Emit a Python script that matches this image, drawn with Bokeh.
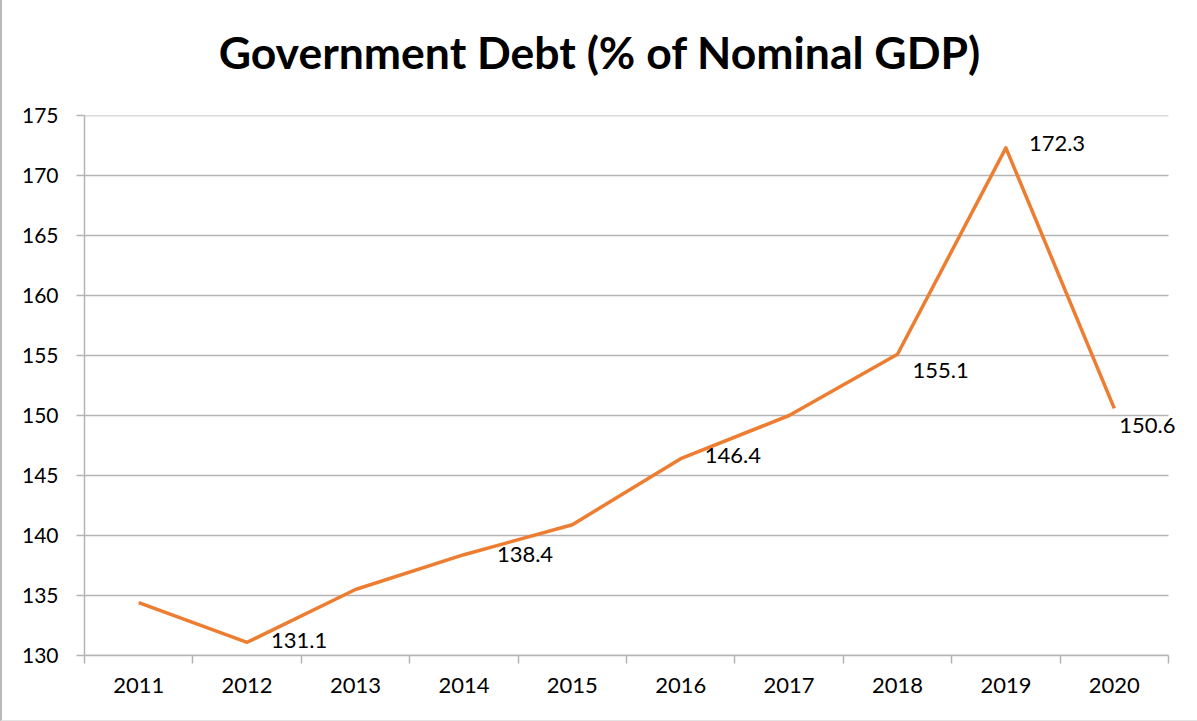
from bokeh.plotting import figure
from bokeh.models import ColumnDataSource, LabelSet, FixedTicker, Range1d, Div
from bokeh.layouts import column
from bokeh.core.properties import value
from bokeh.embed import file_html
from bokeh.resources import INLINE

# ---- data ----
years = ["2011", "2012", "2013", "2014", "2015", "2016", "2017", "2018", "2019", "2020"]
debt = [134.4, 131.1, 135.5, 138.4, 140.9, 146.4, 150.0, 155.1, 172.3, 150.6]
labeled_years = ["2012", "2014", "2016", "2018", "2019", "2020"]
y_ticks = [130, 135, 140, 145, 150, 155, 160, 165, 170, 175]
title_text = "Government Debt (% of Nominal GDP)"

# label placement offsets (pixels) for each labeled point
label_dx = [24, 33, 24, 15, 23, 5]
label_dy = [2, 0, 3, -16, 4, -17]

FONT = "Lato"
ORANGE = "#ED7D31"
GRID = "#B4B4B4"

n = len(years)
xpos = [i + 0.5 for i in range(n)]
src = ColumnDataSource(dict(x=xpos, y=debt))

lab_idx = [years.index(y) for y in labeled_years]
lab_src = ColumnDataSource(dict(
    x=[xpos[i] for i in lab_idx],
    y=[debt[i] for i in lab_idx],
    t=["%.1f" % debt[i] for i in lab_idx],
    dx=label_dx,
    dy=label_dy,
))

TITLE_H = 95
PLOT_W = 1195
LEFT = 82
AXIS_W = 1084  # pixel width of the category axis
p = figure(width=PLOT_W, height=720 - TITLE_H, output_backend="svg", toolbar_location=None,
           x_range=Range1d(0, n * (PLOT_W - LEFT) / AXIS_W),
           y_range=Range1d(y_ticks[0], y_ticks[-1]),
           min_border_left=LEFT, min_border_right=0, min_border_top=20, min_border_bottom=65)
p.outline_line_color = None
p.background_fill_color = "white"
p.border_fill_color = "white"

# horizontal gridlines limited to the category axis span
p.segment(x0=[0] * len(y_ticks), x1=[n] * len(y_ticks), y0=y_ticks, y1=y_ticks,
          line_color=GRID, line_width=1.5)

p.line("x", "y", source=src, line_color=ORANGE, line_width=3.5, line_join="round")

labels = LabelSet(x="x", y="y", text="t", source=lab_src, x_offset="dx", y_offset="dy",
                  text_font=value(FONT), text_font_size="22px", text_color="black",
                  text_align="left", text_baseline="middle")
p.add_layout(labels)

# x axis: labels at category centres, ticks at category boundaries
p.xaxis.bounds = (0, n)
p.xaxis.ticker = FixedTicker(ticks=xpos, minor_ticks=list(range(n + 1)))
p.xaxis.major_label_overrides = {x: y for x, y in zip(xpos, years)}
p.xaxis.major_tick_line_color = None
p.xaxis.major_tick_out = 0
p.xaxis.major_tick_in = 0
p.xaxis.minor_tick_out = 8
p.xaxis.minor_tick_in = 0
p.xaxis.minor_tick_line_color = GRID
p.xaxis.minor_tick_line_width = 1.5
p.xaxis.axis_line_color = GRID
p.xaxis.axis_line_width = 1.5
p.xaxis.major_label_standoff = 14
p.xaxis.major_label_text_font = FONT
p.xaxis.major_label_text_font_size = "22px"
p.xaxis.major_label_text_color = "black"

p.yaxis.ticker = FixedTicker(ticks=y_ticks)
p.yaxis.minor_tick_line_color = None
p.yaxis.major_tick_out = 8
p.yaxis.major_tick_in = 0
p.yaxis.major_tick_line_color = GRID
p.yaxis.major_tick_line_width = 1.5
p.yaxis.axis_line_color = GRID
p.yaxis.axis_line_width = 1.5
p.yaxis.major_label_standoff = 18
p.yaxis.major_label_text_font = FONT
p.yaxis.major_label_text_font_size = "21px"
p.yaxis.major_label_text_color = "black"

p.xgrid.grid_line_color = None
p.ygrid.grid_line_color = None

title = Div(text='<div style="margin-top:30px; line-height:44px;">' + title_text + '</div>',
            width=PLOT_W, height=TITLE_H, margin=0,
            styles={"font-family": FONT, "font-weight": "bold", "font-size": "44.5px",
                    "text-align": "center", "color": "black", "background": "white"})

layout = column(title, p, spacing=0,
                styles={"border-left": "2px solid #B9B9B9", "border-bottom": "1px solid #E3E3E3"})

open("out.html", "w").write(file_html(layout, INLINE))
